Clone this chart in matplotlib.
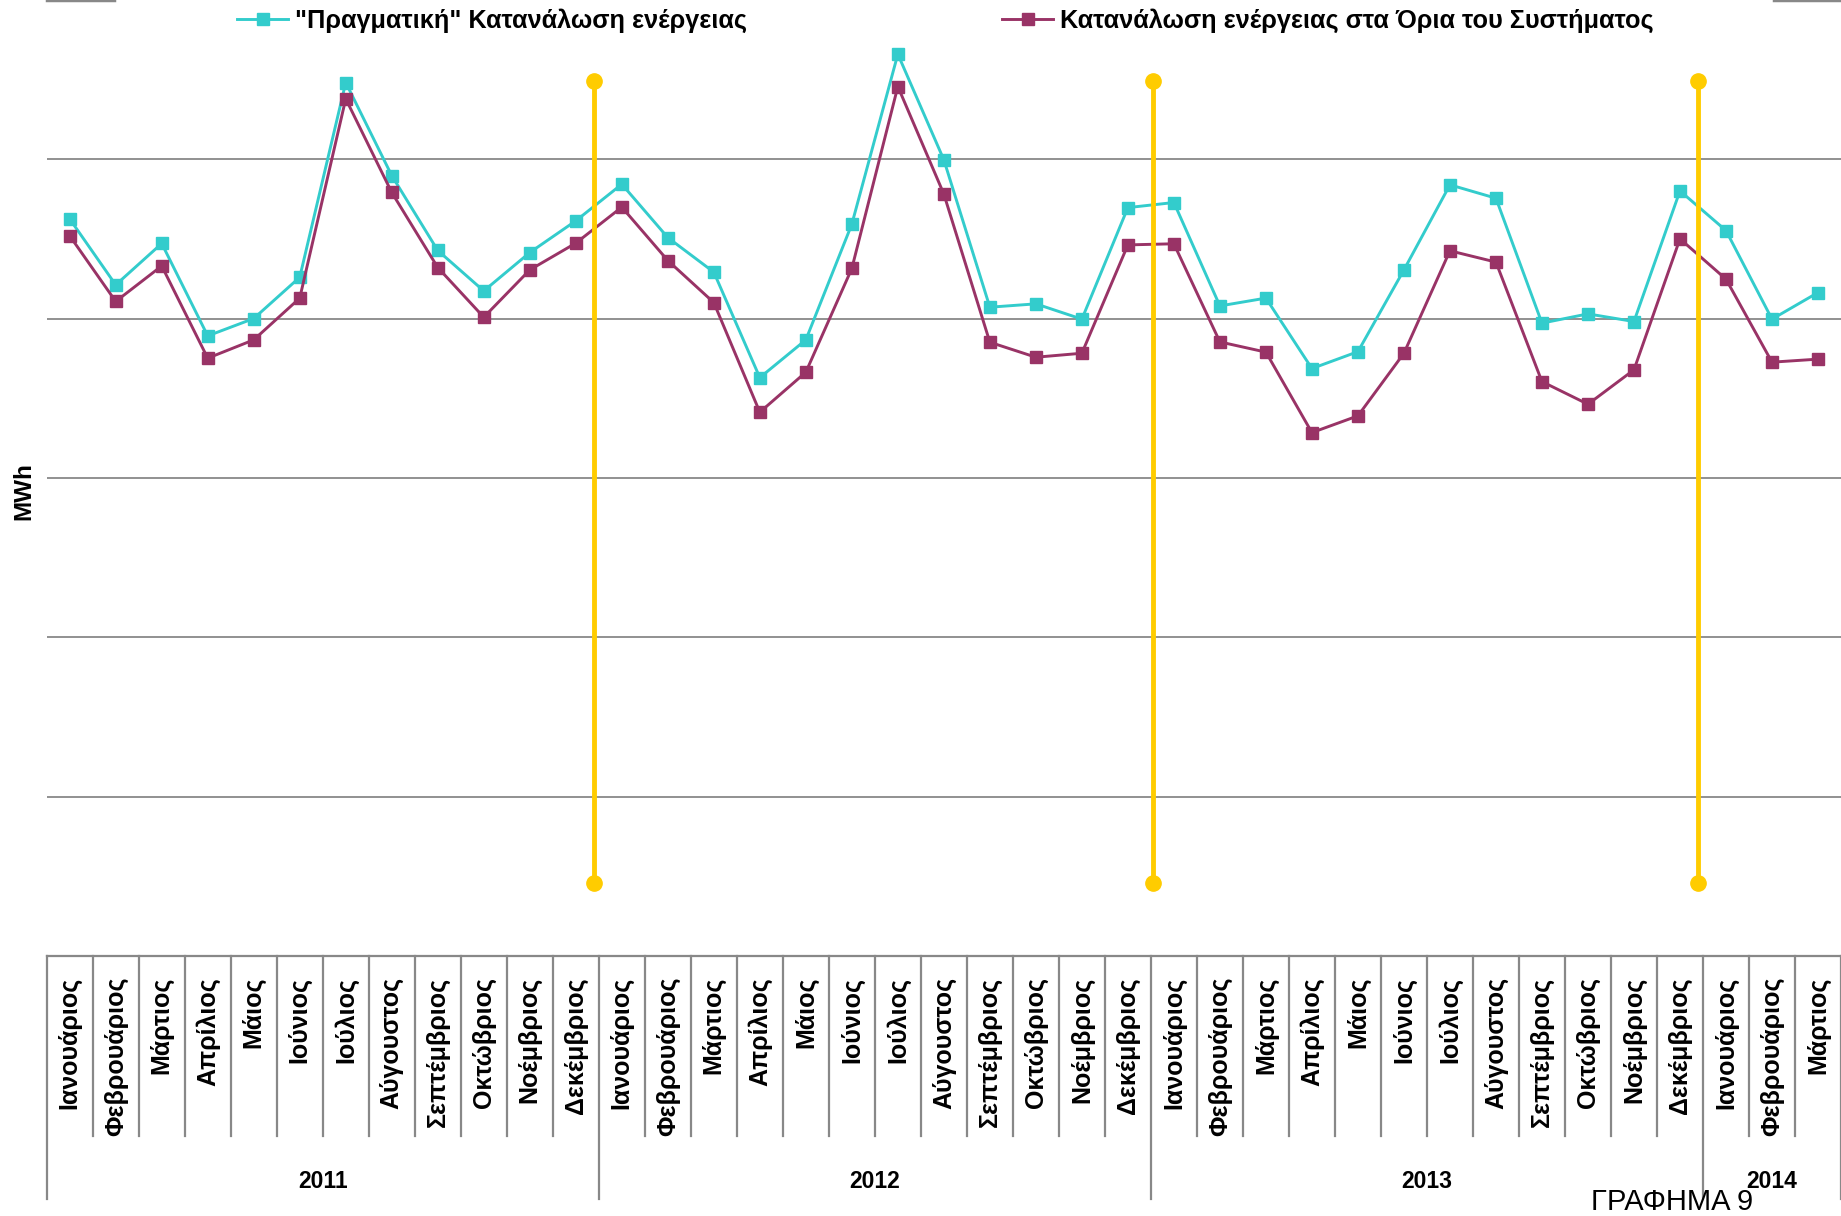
import numpy as np
import matplotlib.pyplot as plt

# monthly energy consumption, thousand MWh (Jan 2011 - Mar 2014)
months = ['Ιανουάριος', 'Φεβρουάριος', 'Μάρτιος', 'Απρίλιος', 'Μάιος', 'Ιούνιος',
          'Ιούλιος', 'Αύγουστος', 'Σεπτέμβριος', 'Οκτώβριος', 'Νοέμβριος', 'Δεκέμβριος']
month_labels = months * 3 + months[:3]
years = ['2011', '2012', '2013', '2014']
year_counts = [12, 12, 12, 3]

real = [4626, 4212, 4472, 3892, 4001, 4260, 5482, 4898, 4428, 4174, 4415, 4614,
        4844, 4509, 4292, 3630, 3867, 4593, 5660, 4997, 4072, 4093, 3997, 4697,
        4729, 4080, 4129, 3687, 3793, 4306, 4840, 4756, 3972, 4030, 3982, 4802,
        4553, 3997, 4164]
system = [4520, 4108, 4331, 3752, 3867, 4129, 5380, 4792, 4321, 4009, 4306, 4474,
          4700, 4365, 4101, 3413, 3664, 4315, 5457, 4782, 3852, 3758, 3783, 4463,
          4470, 3854, 3790, 3285, 3390, 3783, 4426, 4355, 3605, 3463, 3679, 4501,
          4248, 3727, 3746]

# yellow year markers
divider_x = [11.4, 23.55, 35.4]
divider_lo = 457
divider_hi = 5490

label_real = '"Πραγματική" Κατανάλωση ενέργειας'
label_system = 'Κατανάλωση ενέργειας στα Όρια του Συστήματος'

plt.rcParams['font.family'] = ['Liberation Sans', 'DejaVu Sans']

W, H = 1841, 1216
fig = plt.figure(figsize=(W / 100, H / 100), dpi=100)
left = 46.7 / W
ax = fig.add_axes([left, 1 - 956 / H, 1 - left, 956 / H])

x = np.arange(len(real))
real_mwh = np.array(real) * 1000
system_mwh = np.array(system) * 1000

ax.plot(x, real_mwh, color='#33CCCC', lw=2.1, marker='s', ms=8, zorder=3, label=label_real)
ax.plot(x, system_mwh, color='#993366', lw=2.1, marker='s', ms=8, zorder=4, label=label_system)

for dx in divider_x:
    ax.plot([dx, dx], [divider_lo * 1000, divider_hi * 1000], color='#FFCC00', lw=3.5,
            marker='o', ms=11, zorder=5, solid_capstyle='butt')

ax.set_xlim(-0.5, len(real) - 0.5)
ax.set_ylim(0, 6e6)
ax.set_yticks(np.arange(0, 6) * 1e6)
ax.set_xticks([])
ax.tick_params(length=0, labelleft=False)
ax.yaxis.grid(True, color='#888888', lw=1.3)
ax.set_axisbelow(True)
for s in ax.spines.values():
    s.set_visible(False)

# top gridline, partly hidden behind the legend
span = W - 46.7
ax.axhline(6e6, xmin=0, xmax=(114 - 46.7) / span, color='#888888', lw=2.5, clip_on=False)
ax.axhline(6e6, xmin=(1774 - 46.7) / span, xmax=1, color='#888888', lw=2.5, clip_on=False)

handles, labels = ax.get_legend_handles_labels()
fig.legend(handles, labels, ncol=2, loc='center', bbox_to_anchor=(945.5 / W, 1 - 21 / H),
           frameon=False, prop=dict(weight='bold', size=18.2), handlelength=2.0,
           handletextpad=0.28, columnspacing=10.1, borderpad=0, borderaxespad=0)

fig.text(24 / W, 1 - 491 / H, 'MWh', rotation=90, ha='center', va='center',
         fontweight='bold', fontsize=17.5)

# category table below the plot
tab = fig.add_axes([left, 0, 1 - left, 260 / H])
tab.set_xlim(-0.5, len(real) - 0.5)
tab.set_ylim(260, 0)
tab.axis('off')

line_kw = dict(color='#888888', lw=1.6, clip_on=False)
tab.plot([-0.5, len(real) - 0.5], [0, 0], **line_kw)
bounds = np.cumsum([0] + year_counts) - 0.5
for b in range(1, len(real)):
    if b - 0.5 not in bounds:
        tab.plot([b - 0.5, b - 0.5], [0, 180], **line_kw)
for b in bounds:
    tab.plot([b, b], [0, 243], **line_kw)

for i, m in enumerate(month_labels):
    tab.text(i, 21, m, rotation=90, ha='center', va='top', fontweight='bold', fontsize=18)

for k, yr in enumerate(years):
    tab.text((bounds[k] + bounds[k + 1]) / 2, 226, yr, ha='center', va='center',
             fontweight='bold', fontsize=16.5)

fig.text(1672 / W, 1 - 1202 / H, 'ΓΡΑΦΗΜΑ 9', ha='center', va='center', fontsize=21)

fig.savefig('out.png', dpi=100)
